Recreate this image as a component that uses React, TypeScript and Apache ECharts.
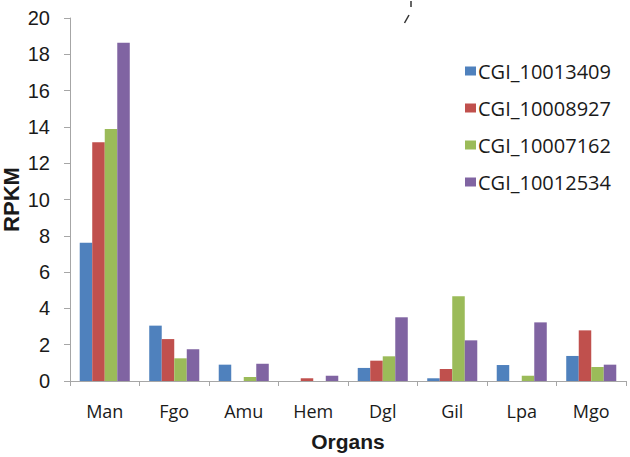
import React, { useEffect, useRef } from "react";
import * as echarts from "echarts";

const categories = ["Man", "Fgo", "Amu", "Hem", "Dgl", "Gil", "Lpa", "Mgo"];
const seriesNames = ["CGI_10013409", "CGI_10008927", "CGI_10007162", "CGI_10012534"];
const s1 = [7.62, 3.05, 0.9, 0, 0.72, 0.15, 0.88, 1.38];
const s2 = [13.15, 2.31, 0, 0.15, 1.12, 0.66, 0, 2.79];
const s3 = [13.88, 1.25, 0.22, 0, 1.36, 4.67, 0.29, 0.77];
const s4 = [18.64, 1.75, 0.95, 0.29, 3.51, 2.24, 3.23, 0.9];
const colors = ["#4f81bd", "#c0504d", "#9bbb59", "#8064a2"];
const yTicks = [0, 20, 2];

export default function App() {
  const ref = useRef<HTMLDivElement>(null);
  useEffect(() => {
    if (!ref.current) return;
    const chart = echarts.init(ref.current, null, { renderer: "svg" });
    const data = [s1, s2, s3, s4];
    chart.setOption({
      animation: false,
      backgroundColor: "#ffffff",
      textStyle: { fontFamily: "Liberation Sans" },
      grid: { left: 70, right: 4, top: 18, bottom: 76, containLabel: false, outerBoundsMode: "none" },
      legend: {
        orient: "vertical",
        left: 460,
        top: 56,
        itemWidth: 11,
        itemHeight: 9,
        itemGap: 17,
        icon: "rect",
        data: seriesNames,
        textStyle: { fontSize: 20, color: "#1a1a1a", fontFamily: "Open Sans", padding: [0, 0, 0, -3] },
      },
      xAxis: {
        type: "category",
        data: categories,
        name: "Organs",
        nameLocation: "middle",
        nameGap: 50,
        nameMoveOverlap: false,
        nameTextStyle: { fontSize: 21, fontWeight: "bold", color: "#1a1a1a", fontFamily: "Liberation Sans" },
        axisLine: { lineStyle: { color: "#a6a6a6", width: 1 } },
        axisTick: { show: true, length: 5, lineStyle: { color: "#a6a6a6" } },
        axisLabel: { fontSize: 18, color: "#1a1a1a", margin: 21, fontFamily: "Open Sans" },
      },
      yAxis: {
        type: "value",
        min: yTicks[0],
        max: yTicks[1],
        interval: yTicks[2],
        name: "RPKM",
        nameLocation: "middle",
        nameGap: 48,
        nameMoveOverlap: false,
        nameRotate: 90,
        nameTextStyle: { fontSize: 22, fontWeight: "bold", color: "#1a1a1a", fontFamily: "Liberation Sans" },
        axisLine: { show: true, lineStyle: { color: "#a6a6a6", width: 1 } },
        axisTick: { show: true, length: 6, lineStyle: { color: "#a6a6a6" } },
        axisLabel: { fontSize: 20, color: "#1a1a1a", margin: 20, fontFamily: "Liberation Sans" },
        splitLine: { show: false },
      },
      series: data.map((d, i) => ({
        type: "bar",
        name: seriesNames[i],
        data: d,
        barGap: "0%",
        barCategoryGap: "28%",
        itemStyle: { color: colors[i] },
      })),
      graphic: [
        { type: "line", shape: { x1: 411, y1: 1, x2: 411, y2: 7 }, style: { stroke: "#333", lineWidth: 1.5 } },
        { type: "line", shape: { x1: 409, y1: 15, x2: 404.5, y2: 23 }, style: { stroke: "#333", lineWidth: 1.5 } },
      ],
    });
    return () => chart.dispose();
  }, []);
  return <div ref={ref} style={{ width: 630, height: 457, position: "absolute", left: 0, top: 0 }} />;
}
